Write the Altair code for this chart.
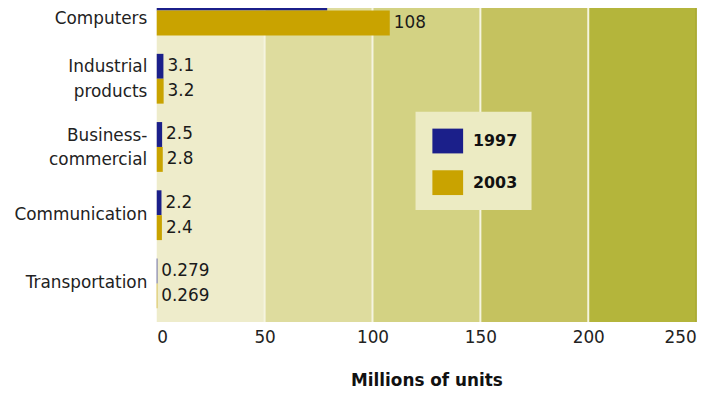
import altair as alt
import pandas as pd

# ---- data ----
categories = ["Computers", "Industrial|products", "Business-|commercial",
              "Communication", "Transportation"]
years = ["1997", "2003"]
values_1997 = [79, 3.1, 2.5, 2.2, 0.279]
values_2003 = [108, 3.2, 2.8, 2.4, 0.269]
band_starts = [0, 50, 100, 150, 200]
band_ends = [50, 100, 150, 200, 250]
separators = [50, 100, 150, 200]
edge_value = [250]
x_ticks = [0, 50, 100, 150, 200, 250]

# ---- styling ----
bar_colors = ["#1b1f8a", "#c9a300"]
band_colors = ["#eeeccb", "#dedc9e", "#d3d283", "#c5c25f", "#b4b53b"]
FONT = "DejaVu Sans"

rows = []
for c, a, b in zip(categories, values_1997, values_2003):
    rows.append({"category": c, "year": years[0], "value": a})
    rows.append({"category": c, "year": years[1], "value": b})
df = pd.DataFrame(rows)
bands = pd.DataFrame({"start": band_starts, "end": band_ends,
                      "band": [str(i) for i in range(len(band_starts))]})
seps = pd.DataFrame({"x": separators})
edge = pd.DataFrame({"x": edge_value})

xscale = alt.Scale(domain=[0, 250], nice=False, zero=True)
xaxis = alt.Axis(values=x_ticks, grid=False, ticks=False, domain=False,
                 labelFont=FONT, labelFontSize=17, labelColor="#222222",
                 labelPadding=8, title="Millions of units", titleFont=FONT,
                 titleFontSize=17, titleFontWeight="bold", titleColor="#111111",
                 titlePadding=27)
yscale = alt.Scale(domain=categories, paddingInner=0.27, paddingOuter=0.2)
yaxis = alt.Axis(title=None, ticks=False, domain=False, labelFont=FONT,
                 labelFontSize=17, labelColor="#222222", labelLineHeight=25,
                 labelPadding=10, labelLimit=300,
                 labelOffset={"condition": [
                     {"test": "indexof(datum.value, '|') >= 0", "value": -11.5},
                     {"test": "datum.value == 'Computers'", "value": 9}],
                     "value": 0},
                 labelExpr="split(datum.value, '|')")
yoff = alt.YOffset("year:N", scale=alt.Scale(domain=years, paddingInner=0,
                                               paddingOuter=0))

bg = alt.Chart(bands).mark_rect().encode(
    x=alt.X("start:Q", scale=xscale, axis=xaxis),
    x2="end:Q",
    fill=alt.Fill("band:N", scale=alt.Scale(domain=bands["band"].tolist(),
                                            range=band_colors), legend=None),
)

sep_rules = alt.Chart(seps).mark_rule(color="#f5f4df", strokeWidth=2).encode(
    x=alt.X("x:Q", scale=xscale, axis=xaxis)
)
edge_rule = alt.Chart(edge).mark_rule(color="#a6a72e", strokeWidth=1.5).encode(
    x=alt.X("x:Q", scale=xscale, axis=xaxis)
)

bars = alt.Chart(df).mark_bar().encode(
    y=alt.Y("category:N", scale=yscale, axis=yaxis, sort=categories),
    yOffset=yoff,
    x=alt.X("value:Q", scale=xscale, axis=xaxis),
    color=alt.Color("year:N", scale=alt.Scale(domain=years, range=bar_colors),
                    legend=alt.Legend(orient="none", legendX=261, legendY=141,
                                      title=None, fillColor="#ecebc3",
                                      padding=14, direction="vertical",
                                      symbolType="M-1,-0.8065H1V0.8065H-1Z",
                                      symbolSize=961, symbolStrokeWidth=0,
                                      symbolOpacity=1, symbolOffset=3,
                                      labelFont=FONT,
                                      labelFontSize=16, labelFontWeight="bold",
                                      labelColor="#111111", labelOffset=10,
                                      rowPadding=13)),
)

labels = alt.Chart(df).transform_calculate(
    label="'' + datum.value"
).mark_text(align="left", baseline="middle", dx=4, font=FONT, fontSize=17,
            color="#1a1a1a").encode(
    y=alt.Y("category:N", scale=yscale, axis=yaxis, sort=categories),
    yOffset=yoff,
    x=alt.X("value:Q", scale=xscale, axis=xaxis),
    text="label:N",
)

chart = alt.layer(bg, sep_rules, edge_rule, bars, labels).properties(
    width=544,
    height=353,
    autosize=alt.AutoSizeParams(type="none"),
    padding={"left": 150, "top": -38, "right": 16, "bottom": 72},
    background="white",
).configure_view(stroke=None)

chart.save("out.html", embed_options={"renderer": "svg", "actions": False})
